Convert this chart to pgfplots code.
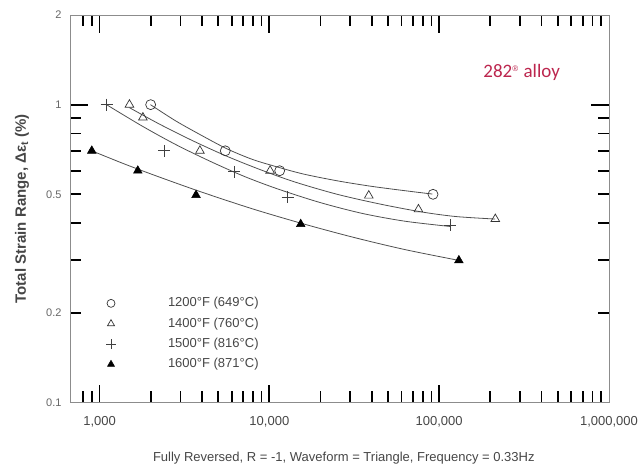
\documentclass[border=0pt]{standalone}
\usepackage{fontspec}
\setmainfont{Liberation Sans}
\newfontfamily\carlito{Carlito}
\usepackage{pgfplots}
\pgfplotsset{compat=1.18}

\definecolor{alloyred}{RGB}{188,38,78}
\definecolor{curvegray}{RGB}{80,80,80}
\definecolor{labelgray}{RGB}{70,70,70}

\begin{document}
\begin{tikzpicture}
\begin{axis}[
  scale only axis,
  width=539bp, height=387.5bp,
  xmode=log, ymode=log,
  xmin=670, xmax=1000000,
  ymin=0.1, ymax=2,
  axis line style={draw=black!45, line width=0.8bp},
  tick align=inside,
  major tick length=18bp,
  minor tick length=11.5bp,
  tick style={black, line width=1.8bp},
  xtick={1000,10000,100000},
  xticklabels={{1,000},{10,000},{100,000}},
  extra x ticks={1000000},
  extra x tick labels={1{,}000{,}000},
  extra x tick style={major tick length=0pt},
  minor xtick={800,900,2000,3000,4000,5000,6000,7000,8000,9000,
    20000,30000,40000,50000,60000,70000,80000,90000,
    200000,300000,400000,500000,600000,700000,800000,900000},
  ytick={1},
  yticklabels={1},
  extra y ticks={0.1,0.2,0.5,2},
  extra y tick labels={0.1,0.2,0.5,2},
  extra y tick style={major tick length=0pt},
  minor ytick={0.2,0.3,0.4,0.5,0.6,0.7,0.8,0.9},
  xticklabel style={font=\fontsize{13bp}{15bp}\selectfont, text=labelgray, yshift=-10bp},
  yticklabel style={font=\fontsize{11bp}{13bp}\selectfont, text=black!60, xshift=-5bp},
  xlabel={Fully Reversed, R = -1, Waveform = Triangle, Frequency = 0.33Hz},
  xlabel style={at={(axis description cs:0.508,-0.1447)}, anchor=center,
    font=\fontsize{13bp}{15bp}\selectfont, text=labelgray},
  ylabel={Total Strain Range, Δε\textsubscript{t} (\%)},
  ylabel style={at={(axis description cs:-0.089,0.5)}, anchor=center,
    font=\bfseries\fontsize{15bp}{17bp}\selectfont, text=labelgray},
  legend image code/.code={
    \path[draw=none, fill=none] (-5bp,-5bp) rectangle (57bp,5bp);
    \draw[#1, every mark/.append style={scale=0.8}] plot coordinates {(0bp,0bp)};
  },
  legend cell align=left,
  legend style={at={(rel axis cs:0.0668,0.2716)}, anchor=north west,
    draw=none, fill=none, inner sep=0pt, outer sep=0pt,
    row sep=8.1bp, column sep=0pt,
    nodes={inner sep=0pt, text height=9.5bp, text depth=2.7bp,
      font=\fontsize{13bp}{15bp}\selectfont, text=labelgray}},
]

% fitted curves
\addplot[curvegray, line width=0.8bp, smooth, forget plot] coordinates {
  (1995,1.000) (2818,0.881) (3981,0.789) (5623,0.711) (7943,0.655)
  (11220,0.617) (15849,0.585) (25119,0.555) (39811,0.532) (63096,0.514)
  (91201,0.501)};
\addplot[curvegray, line width=0.8bp, smooth, forget plot] coordinates {
  (1500,0.977) (2239,0.862) (3548,0.756) (5623,0.671) (8913,0.604)
  (14125,0.550) (25119,0.500) (44668,0.464) (79433,0.436) (125893,0.421)
  (213796,0.413)};
\addplot[curvegray, line width=0.8bp, smooth, forget plot] coordinates {
  (1099,1.000) (1778,0.848) (2818,0.734) (4467,0.646) (7079,0.575)
  (11220,0.521) (19953,0.469) (35481,0.431) (63096,0.406) (115900,0.390)};
\addplot[curvegray, line width=0.8bp, smooth, forget plot] coordinates {
  (900,0.700) (1413,0.631) (2239,0.572) (3981,0.509) (7943,0.447)
  (15849,0.398) (31623,0.358) (63096,0.326) (130600,0.300)};

% test points
\addplot[only marks, mark=o, mark size=5bp,
  mark options={draw=black!80, fill=white, line width=0.7bp}] coordinates {
  (2000,1.0) (5500,0.70) (11500,0.60) (92000,0.50)};
\addlegendentry{1200°F (649°C)}
\addplot[only marks, mark=triangle, mark size=5bp,
  mark options={draw=black!80, fill=white, line width=0.7bp}] coordinates {
  (1500,1.0) (1800,0.905) (3900,0.70) (10100,0.60) (38500,0.495)
  (75500,0.445) (214000,0.413)};
\addlegendentry{1400°F (760°C)}
\addplot[only marks, mark=+, mark size=6bp,
  mark options={draw=black!75, line width=0.7bp}] coordinates {
  (1100,1.0) (2400,0.70) (6200,0.595) (12800,0.49) (116000,0.393)};
\addlegendentry{1500°F (816°C)}
\addplot[only marks, mark=triangle*, mark size=5bp,
  mark options={draw=black, fill=black, line width=0.5bp}] coordinates {
  (900,0.70) (1680,0.60) (3700,0.497) (15300,0.397) (130600,0.30)};
\addlegendentry{1600°F (871°C)}

\node[anchor=base, text=alloyred, font=\carlito\fontsize{19bp}{21bp}\selectfont]
  at (rel axis cs:0.838,0.8398)
  {282\raisebox{5.5bp}{\rmfamily\fontsize{8bp}{8bp}\selectfont ®}\hspace{1bp} alloy};
\end{axis}
\pgfresetboundingbox
\path[use as bounding box] (current axis.south west) ++(-70bp,-68.5bp) rectangle ++(642bp,471bp);
\end{tikzpicture}
\end{document}
